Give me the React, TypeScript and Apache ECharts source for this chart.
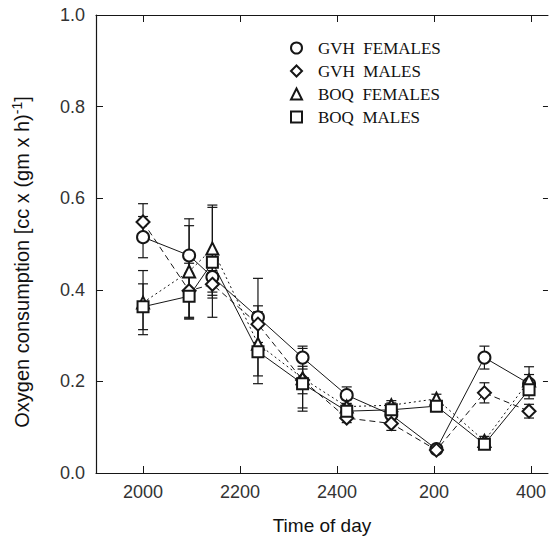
import React, { useEffect, useRef } from "react";
import * as echarts from "echarts";

// Time of day in hours (20 = 2000 h, 26 = 0200 h next day)
const times = [20.0, 20.95, 21.43, 22.37, 23.29, 24.2, 25.12, 26.05, 27.04, 27.96];
const tickHours = [20, 22, 24, 26, 28];
const tickLabels = ["2000", "2200", "2400", "200", "400"];

const gvhFemales = [0.515, 0.475, 0.428, 0.34, 0.252, 0.17, 0.127, 0.052, 0.252, 0.195];
const gvhMales = [0.548, 0.398, 0.412, 0.325, 0.203, 0.12, 0.108, 0.05, 0.175, 0.135];
const boqFemales = [0.372, 0.44, 0.49, 0.282, 0.207, 0.145, 0.148, 0.162, 0.07, 0.202];
const boqMales = [0.363, 0.386, 0.46, 0.265, 0.195, 0.135, 0.138, 0.146, 0.063, 0.182];

const gvhFemalesErr = [0.045, 0.08, 0.04, 0.085, 0.025, 0.018, 0.015, 0.005, 0.025, 0.02];
const gvhMalesErr = [0.04, 0.06, 0.03, 0.04, 0.03, 0.01, 0.015, 0.005, 0.022, 0.015];
const boqFemalesErr = [0.07, 0.1, 0.095, 0.07, 0.065, 0.015, 0.01, 0.01, 0.01, 0.03];
const boqMalesErr = [0.05, 0.05, 0.12, 0.07, 0.06, 0.015, 0.015, 0.01, 0.01, 0.02];

const seriesNames = ["GVH  FEMALES", "GVH  MALES", "BOQ  FEMALES", "BOQ  MALES"];
const seriesValues = [gvhFemales, gvhMales, boqFemales, boqMales];
const seriesErrs = [gvhFemalesErr, gvhMalesErr, boqFemalesErr, boqMalesErr];
const symbols = ["emptyCircle", "emptyDiamond", "emptyTriangle", "emptyRect"];
const symbolSizes = [12, 13, 12, 11];
const lineTypes: any[] = ["solid", [6, 4], [2, 3], "solid"];

const INK = "#161616";
const X_MIN = 19.03;
const X_MAX = 28.35;

export default function App() {
  const ref = useRef<HTMLDivElement>(null);
  useEffect(() => {
    if (!ref.current) return;
    const chart = echarts.init(ref.current, null, { renderer: "svg" });

    const errSeries = seriesValues.map((vals, si) => ({
      type: "custom",
      name: "err" + si,
      xAxisIndex: 0,
      yAxisIndex: 0,
      z: 1,
      silent: true,
      data: vals.map((v, i) => [times[i], v - seriesErrs[si][i], v + seriesErrs[si][i]]),
      encode: { x: 0, y: [1, 2] },
      renderItem: (params: any, api: any) => {
        const x = api.value(0);
        const lo = api.value(1);
        const hi = api.value(2);
        const p1 = api.coord([x, lo]);
        const p2 = api.coord([x, hi]);
        const w = 5;
        const style = { stroke: INK, lineWidth: 1.2 };
        return {
          type: "group",
          children: [
            { type: "line", shape: { x1: p1[0], y1: p1[1], x2: p2[0], y2: p2[1] }, style },
            { type: "line", shape: { x1: p1[0] - w, y1: p1[1], x2: p1[0] + w, y2: p1[1] }, style },
            { type: "line", shape: { x1: p2[0] - w, y1: p2[1], x2: p2[0] + w, y2: p2[1] }, style },
          ],
        };
      },
    }));

    const lineSeries = seriesValues.map((vals, si) => ({
      type: "line",
      name: seriesNames[si],
      xAxisIndex: 0,
      yAxisIndex: 0,
      z: 3,
      data: vals.map((v, i) => [times[i], v]),
      symbol: symbols[si],
      symbolSize: symbolSizes[si],
      showAllSymbol: true,
      lineStyle: { color: INK, width: 1, type: lineTypes[si] },
      itemStyle: { color: INK, borderWidth: 1.2 },
    }));

    const sans = "'Liberation Sans', Arial, Helvetica, sans-serif";

    chart.setOption({
      animation: false,
      backgroundColor: "#ffffff",
      legend: {
        data: seriesNames.map((n, i) => ({ name: n, icon: symbols[i] })),
        orient: "vertical",
        left: 285,
        top: 34,
        itemWidth: 11,
        itemHeight: 11,
        itemGap: 5,
        selectedMode: false,
        textStyle: {
          fontFamily: "'Liberation Serif', 'Times New Roman', serif",
          fontSize: 17,
          lineHeight: 18,
          color: "#111",
          padding: [0, 0, 0, 11],
        },
      },
      grid: { left: 96, right: 0, top: 15, bottom: 64, containLabel: false },
      xAxis: [
        {
          type: "value",
          position: "bottom",
          min: X_MIN,
          max: X_MAX,
          splitLine: { show: false },
          axisLine: { show: true, onZero: false, lineStyle: { color: INK, width: 1.2 } },
          axisTick: {
            show: true,
            inside: true,
            length: 7,
            customValues: tickHours,
            lineStyle: { color: INK },
          },
          axisLabel: {
            show: true,
            customValues: tickHours,
            margin: 10,
            color: "#333",
            fontSize: 18,
            fontFamily: sans,
            formatter: (v: number) => {
              const idx = tickHours.indexOf(Math.round(v));
              return idx >= 0 ? tickLabels[idx] : "";
            },
          },
          name: "Time of day",
          nameLocation: "middle",
          nameGap: 43,
          nameTextStyle: { color: "#111", fontSize: 19, fontFamily: sans },
        },
        {
          type: "value",
          position: "top",
          min: X_MIN,
          max: X_MAX,
          splitLine: { show: false },
          axisLine: { show: true, onZero: false, lineStyle: { color: INK, width: 1.2 } },
          axisTick: {
            show: true,
            inside: true,
            length: 7,
            customValues: tickHours,
            lineStyle: { color: INK },
          },
          axisLabel: { show: false },
        },
      ],
      yAxis: [
        {
          type: "value",
          position: "left",
          min: 0,
          max: 1,
          interval: 0.2,
          splitLine: { show: false },
          axisLine: { show: true, onZero: false, lineStyle: { color: INK, width: 1.2 } },
          axisTick: { show: true, inside: true, length: 7, lineStyle: { color: INK } },
          axisLabel: {
            margin: 11,
            color: "#333",
            fontSize: 18,
            fontFamily: sans,
            formatter: (v: number) => v.toFixed(1),
          },
          name: "Oxygen consumption [cc x (gm x h){sup|-1}]",
          nameLocation: "middle",
          nameRotate: 90,
          nameGap: 62,
          nameTextStyle: {
            color: "#111",
            fontSize: 20,
            fontFamily: sans,
            lineHeight: 24,
            padding: [0, 36, 0, 0],
            rich: {
              sup: {
                fontSize: 14,
                fontFamily: sans,
                color: "#111",
                verticalAlign: "top",
                lineHeight: 24,
                padding: [0, 0, 10, 0],
              },
            },
          },
        },
        {
          type: "value",
          position: "right",
          min: 0,
          max: 1,
          interval: 0.2,
          splitLine: { show: false },
          axisLine: { show: false },
          axisTick: { show: true, inside: true, length: 5, lineStyle: { color: INK } },
          axisLabel: { show: false },
        },
      ],
      series: [...errSeries, ...lineSeries],
    });

    return () => chart.dispose();
  }, []);

  return (
    <div
      ref={ref}
      style={{ position: "fixed", left: 0, top: 0, width: 549, height: 540, background: "#fff" }}
    />
  );
}
